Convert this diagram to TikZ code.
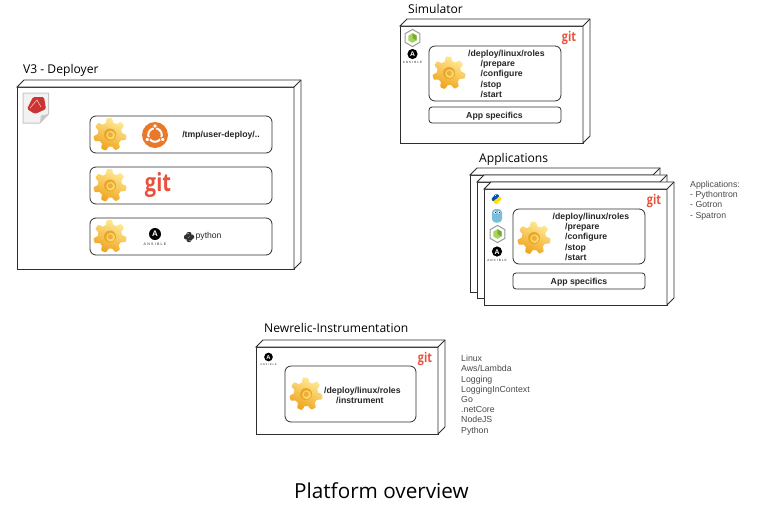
\documentclass[tikz,border=0pt]{standalone}
\usepackage{fontspec}
\setmainfont{Liberation Sans}
\newfontfamily\headfont{Open Sans}
\newfontfamily\gitfont{Open Sans}
\usetikzlibrary{calc}
\definecolor{gitred}{HTML}{E8523C}
\definecolor{ubu}{HTML}{E9782A}
\definecolor{txtdark}{HTML}{262626}
\definecolor{txtgray}{HTML}{4A4A4A}
\definecolor{edge}{HTML}{2E2E2E}
\definecolor{cogtop}{HTML}{FFEB96}
\definecolor{cogbot}{HTML}{EFA31E}
\definecolor{cogring}{HTML}{E9A62A}
\definecolor{cogin}{HTML}{FBD768}
\definecolor{hexlight}{HTML}{A6D35A}
\definecolor{hexdark}{HTML}{6FAE2E}
\newcommand{\cuboidnode}[5]{%
  \pgfmathsetmacro{\cw}{#4-#2}\pgfmathsetmacro{\ch}{#5-#3}%
  \node[front,anchor=north west,minimum width=\cw pt,minimum height=\ch pt] (#1) at (#2,#3) {};
  \draw[cubeline,fill=white] (#1.north west) -- ++(7,-7) -- ($(#1.north east)+(7,-7)$) -- ($(#1.south east)+(7,-7)$) -- (#1.south east) -- (#1.north east) -- cycle;
  \draw[cubeline] (#1.north east) -- ++(7,-7);
}
\tikzset{
  front/.style={draw=edge,line width=.8pt,fill=white,inner sep=0pt,outer sep=0pt},
  cubeline/.style={draw=edge,line width=.8pt,line join=miter},
  rbox/.style={draw=edge,line width=.8pt,rounded corners=6pt,fill=white,inner sep=0pt,outer sep=0pt},
  heading/.style={font=\headfont\fontsize{12.1}{14}\selectfont,text=black,anchor=west,inner sep=0pt},
  roletext/.style={font=\bfseries\fontsize{8.7}{10.3}\selectfont,text=txtdark,align=left,inner sep=0pt},
  sidetext/.style={font=\fontsize{8.75}{10.2}\selectfont,text=txtgray,align=left,inner sep=0pt,anchor=north west},
  gitbig/.style={font=\gitfont\bfseries\fontsize{25}{25}\selectfont,text=gitred,inner sep=0pt,xscale=.8,transform shape},
  gitsmall/.style={font=\gitfont\bfseries\fontsize{13.5}{13.5}\selectfont,text=gitred,inner sep=0pt,xscale=.8,transform shape},
  pics/cog/.style={code={
    \path[top color=cogtop,bottom color=cogbot,shading angle=-25]
      plot[samples=169,domain=0:360] ({(14.3+2.2*max(-1,min(1,1.8*sin(7*\x+15))))*cos(\x)},{(14.3+2.2*max(-1,min(1,1.8*sin(7*\x+15))))*sin(\x)}) -- cycle;
    \fill[cogring] (0,0) circle (6);
    \fill[cogin] (.7,.7) circle (4.4);
    \fill[cogring!90!white] (.3,.3) circle (2.6);
  }},
  pics/ansible/.style={code={
    \fill[black] (0,0) circle (6);
    \node[inner sep=0pt,text=white,font=\bfseries\fontsize{8}{8}\selectfont,transform shape] (-a) at (0,.2) {A};
    \node[inner sep=0pt,text=txtdark,font=\fontsize{3.6}{4}\selectfont\addfontfeatures{LetterSpace=35},transform shape] (-t) at (0,10.3) {ANSIBLE};
  }},
  pics/pyl/.style 2 args={code={
    \fill[#1,rounded corners=1.2pt] (-2.4,-5) -- (2.4,-5) -- (2.4,-.5) -- (-1,-.5) -- (-1,2.3) -- (-5,2.3) -- (-5,-2) -- (-2.4,-2) -- cycle;
    \fill[#2,rounded corners=1.2pt] (2.4,5) -- (-2.4,5) -- (-2.4,.5) -- (1,.5) -- (1,-2.3) -- (5,-2.3) -- (5,2) -- (2.4,2) -- cycle;
    \fill[white] (-1,-3.6) circle (.6);
    \fill[white] (1,3.6) circle (.6);
  }},
  pics/cubelogo/.style={code={
    \draw[fill=white,draw=black!40,line width=1pt,line join=round] (90:8.6) -- (30:8.6) -- (-30:8.6) -- (-90:8.6) -- (-150:8.6) -- (150:8.6) -- cycle;
    \fill[hexlight] (90:4.8) -- (30:4.8) -- (-30:4.8) -- (-90:4.8) -- (-150:4.8) -- (150:4.8) -- cycle;
    \fill[hexdark] (0,0) -- (30:4.8) -- (-30:4.8) -- (-90:4.8) -- cycle;
  }},
}
\begin{document}
\begin{tikzpicture}[x=1pt,y=-1pt]
\useasboundingbox[fill=white] (0,0) rectangle (758,515);

% --- V3 Deployer
\node[heading] (t1) at (23,70) {V3 - Deployer};
\cuboidnode{dep}{17}{87}{294}{269}
% ruby document icon
\draw[draw=black!22,fill=black!5,line width=1pt] (23,93) -- (48.5,93) -- (48.5,114) -- (40,123) -- (23,123) -- cycle;
\fill[black!22] (48.5,114) -- (41,115.5) -- (40,123) -- cycle;
\fill[red!75!black!80,rounded corners=1.5pt] (33,97) -- (44,97) -- (46,109) -- (35,114) -- (27,109) -- cycle;
\draw[red!25,line width=.6pt] (30,108) -- (37,100) -- (41,107);
\node[rbox,minimum width=182pt,minimum height=37pt] (d1) at (181,134.5) {};
\node[rbox,minimum width=182pt,minimum height=37pt] (d2) at (181,185.5) {};
\node[rbox,minimum width=182pt,minimum height=37pt] (d3) at (181,236.5) {};
\pic at (110,134.5) {cog};
\pic at (110,185.5) {cog};
\pic at (110,236.5) {cog};
% ubuntu
\fill[ubu] (155,135) circle (13);
\draw[white,line width=2pt] (155,135) circle (6.8);
\foreach \a in {90,210,330}{\draw[ubu,line width=1.4pt] (155,135) -- ++(\a+60:9.5);}
\foreach \a in {30,150,270}{\fill[white,draw=ubu,line width=.8pt] (155,135) ++(\a:9) circle (2.2);}
\node[roletext] (d1t) at (221,135) {/tmp/user-deploy/..};
\node[gitbig] (d2g) at (158,185) {git};
\pic (a0) at (155,234) {ansible};
\pic at (189,237) {pyl={black!80}{black!80}};
\node[inner sep=0pt,anchor=west,text=txtdark,font=\fontsize{8.6}{10}\selectfont] (pyt) at (195.5,236) {python};

% --- Simulator
\node[heading] (t2) at (408,8.5) {Simulator};
\cuboidnode{sim}{400}{26}{583}{143}
\node[rbox,minimum width=132pt,minimum height=55pt] (s1) at (495,73.5) {};
\node[rbox,minimum width=132pt,minimum height=16pt,rounded corners=3pt] (s2) at (495,115) {};
\pic at (449,73) {cog};
\node[roletext,anchor=north west] (s1t) at (468,49.8) {/deploy/linux/roles\\\hspace*{12.5pt}/prepare\\\hspace*{12.5pt}/configure\\\hspace*{12.5pt}/stop\\\hspace*{12.5pt}/start};
\node[roletext] (s2t) at (494.5,116) {App specifics};
\node[gitsmall] (sg) at (569,38) {git};
\pic at (412.5,38) {cubelogo};
\pic[scale=.85] (a1) at (412.5,54) {ansible};

% --- Applications
\node[heading] (t3) at (479,159.5) {Applications};
\cuboidnode{ap3}{470}{175}{653}{292}
\cuboidnode{ap2}{477}{182}{660}{298}
\cuboidnode{ap1}{484}{189}{667}{305}
\node[rbox,minimum width=132pt,minimum height=55pt] (p1) at (579,236.5) {};
\node[rbox,minimum width=132pt,minimum height=16pt,rounded corners=3pt] (p2) at (579,281) {};
\pic at (534,238) {cog};
\node[roletext,anchor=north west] (p1t) at (552.5,212.6) {/deploy/linux/roles\\\hspace*{12.5pt}/prepare\\\hspace*{12.5pt}/configure\\\hspace*{12.5pt}/stop\\\hspace*{12.5pt}/start};
\node[roletext] (p2t) at (579,282) {App specifics};
\node[gitsmall] (pg) at (654,201) {git};
\pic[scale=.95] at (496.5,199) {pyl={blue!55!cyan!70!black}{yellow!80!orange}};
% gopher
\fill[cyan!55!teal!60,rounded corners=3.5pt] (492,209) rectangle (502,222.5);
\fill[white] (495,212.5) circle (1.3) (499,212.5) circle (1.3);
\fill[black] (495.3,212.5) circle (.5) (499.3,212.5) circle (.5);
\pic at (497.5,234) {cubelogo};
\pic[scale=.85] (a2) at (497,251.5) {ansible};
\node[sidetext] (pside) at (690,181) {Applications:\\- Pythontron\\- Gotron\\- Spatron};

% --- Newrelic
\node[heading] (t4) at (264,328) {Newrelic-Instrumentation};
\cuboidnode{nr}{256}{347}{438}{434}
\node[rbox,minimum width=131pt,minimum height=56pt] (n1) at (350.5,394) {};
\pic at (306,394) {cog};
\node[roletext,anchor=north west] (n1t) at (324,386.5) {/deploy/linux/roles\\\hspace*{12pt}/instrument};
\node[gitsmall] (ng) at (425,359) {git};
\pic[scale=.72] (a3) at (268.5,357) {ansible};
\node[sidetext] (nside) at (461,355.2) {Linux\\Aws/Lambda\\Logging\\LoggingInContext\\Go\\.netCore\\NodeJS\\Python};

% --- Caption
\node[inner sep=0pt,text=black,font=\headfont\fontsize{20.7}{24}\selectfont] (cap) at (381.5,491) {Platform overview};
\end{tikzpicture}
\end{document}
